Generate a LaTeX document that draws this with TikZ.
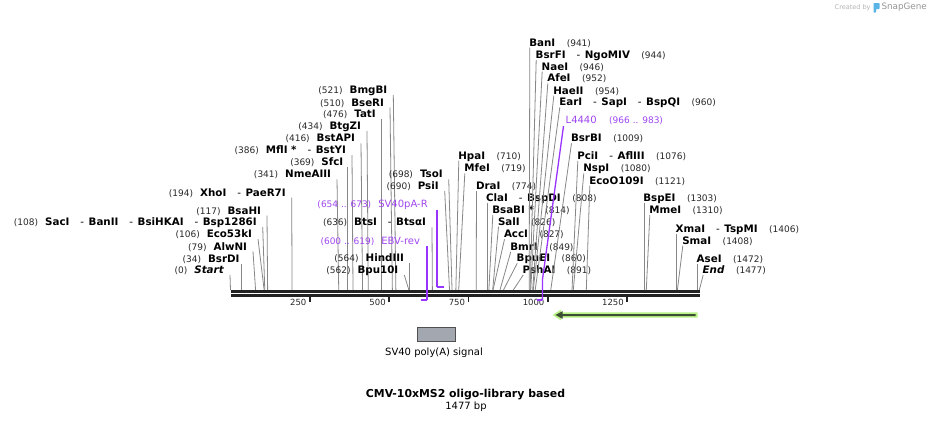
\documentclass[tikz,border=0pt]{standalone}
\usepackage{fontspec}
\setmainfont{DejaVu Sans}
\definecolor{sitegray}{RGB}{135,135,135}
\definecolor{mapline}{RGB}{34,34,34}
\definecolor{primer}{RGB}{153,51,255}
\definecolor{primertxt}{RGB}{160,70,240}
\definecolor{numcol}{RGB}{40,40,40}
\definecolor{boxfill}{RGB}{163,168,176}
\definecolor{boxdraw}{RGB}{80,80,80}
\definecolor{halo}{RGB}{185,242,135}
\definecolor{arrowdark}{RGB}{60,78,52}
\definecolor{sgblue}{RGB}{90,180,230}
\newcommand\sx[1]{230.5+#1*0.3174}
\newcommand\numf{\fontsize{9}{10}\selectfont\mdseries\color{numcol}}
\newcommand\namef{\fontsize{10.3}{12}\selectfont\bfseries\color{black}}
\newcommand\pnum{\fontsize{9}{10}\selectfont\mdseries\color{primertxt}}
\newcommand\pname{\fontsize{10}{12}\selectfont\mdseries\color{primertxt}}
\newcommand\sepd{\hspace{11pt}{\mdseries-}\hspace{4.5pt}}
\tikzset{
  lbl/.style={inner sep=0pt,outer sep=0pt},
  siteline/.style={draw=sitegray,line width=0.8pt},
  mapbar/.style={draw=mapline,line width=2.6pt},
  tickmark/.style={draw=mapline,line width=1.8pt},
  primerline/.style={draw=primer,line width=1.3pt},
  primerbar/.style={draw=primer,line width=1.9pt},
}
\newcommand\LL[5]{%
  \node[lbl,anchor=base east] (n#1) at (#3,#2+3.6) {\numf(#4)\hspace{7pt}\namef #5};
  \coordinate (t#1) at ({min(\sx{#4},#3+6)},#2+5);
  \coordinate (s#1) at ({\sx{#4}},290);
  \draw[siteline] (t#1) -- (s#1);}
\newcommand\RL[5]{%
  \node[lbl,anchor=base west] (n#1) at (#3,#2+3.6) {\namef #5\hspace{11.5pt}\numf(#4)};
  \coordinate (t#1) at ({max(\sx{#4},#3+0.5)},#2+5);
  \coordinate (s#1) at ({\sx{#4}},290);
  \draw[siteline] (t#1) -- (s#1);}
\begin{document}
\begin{tikzpicture}[x=1pt,y=-1pt]
\fill[white] (0,0) rectangle (931,423);
\useasboundingbox (0,0) rectangle (931,423);
% left-side labels
\LL{a1}{270}{224}{0}{\textit{Start}}
\LL{a2}{258.5}{239.5}{34}{BsrDI}
\LL{a3}{246.5}{247}{79}{AlwNI}
\LL{a4}{234}{252}{106}{Eco53kI}
\LL{a5}{222}{256.7}{108}{SacI\sepd BanII\sepd BsiHKAI\sepd Bsp1286I}
\LL{a6}{210.5}{261}{117}{BsaHI}
\LL{a7}{192.5}{285.7}{194}{XhoI\sepd PaeR7I}
\LL{a8}{174.3}{331}{341}{NmeAIII}
\LL{a9}{162}{343.3}{369}{SfcI}
\LL{a10}{150}{346}{386}{MflI *\sepd BstYI}
\LL{a11}{138.3}{355}{416}{BstAPI}
\LL{a12}{126}{361}{434}{BtgZI}
\LL{a13}{114.3}{375.7}{476}{TatI}
\LL{a14}{102.5}{384}{510}{BseRI}
\LL{a15}{90}{387.3}{521}{BmgBI}
\LL{a16}{174.3}{442.7}{698}{TsoI}
\LL{a17}{186}{438.7}{690}{PsiI}
\LL{a18}{222.3}{426}{636}{BtsI\sepd BtsαI}
\LL{a19}{258.3}{404}{564}{HindIII}
\LL{a20}{270}{398.3}{562}{Bpu10I}
% right-side labels
\RL{b1}{155.7}{458.3}{710}{HpaI}
\RL{b2}{168.3}{464.3}{719}{MfeI}
\RL{b3}{186}{476}{774}{DraI}
\RL{b4}{198.3}{486}{808}{ClaI\sepd BspDI}
\RL{b5}{210}{492.3}{814}{BsaBI *}
\RL{b6}{221.7}{498}{826}{SalI}
\RL{b7}{234.3}{504}{827}{AccI}
\RL{b8}{246.7}{510.3}{849}{BmrI}
\RL{b9}{258.3}{516.7}{860}{BpuEI}
\RL{b10}{270}{522.7}{891}{PshAI}
\RL{b11}{42.7}{529.3}{941}{BanI}
\RL{b12}{55}{535.7}{944}{BsrFI\sepd NgoMIV}
\RL{b13}{66.5}{541.7}{946}{NaeI}
\RL{b14}{78.3}{547.3}{952}{AfeI}
\RL{b15}{90.7}{553.3}{954}{HaeII}
\RL{b16}{102.3}{559.3}{960}{EarI\sepd SapI\sepd BspQI}
\RL{b17}{138.3}{571}{1009}{BsrBI}
\RL{b18}{156}{577.3}{1076}{PciI\sepd AflIII}
\RL{b19}{168.3}{583.3}{1080}{NspI}
\RL{b20}{180.7}{589.3}{1121}{EcoO109I}
\RL{b21}{198.3}{643.3}{1303}{BspEI}
\RL{b22}{210}{649.3}{1310}{MmeI}
\RL{b23}{229}{675.7}{1406}{XmaI\sepd TspMI}
\RL{b24}{240.7}{682.3}{1408}{SmaI}
\RL{b25}{259}{696.7}{1472}{AseI}
\RL{b26}{270}{702.7}{1477}{\textit{End}}
% sequence double line
\coordinate (mL1) at (231,291.2); \coordinate (mR1) at (700,291.2);
\coordinate (mL2) at (231,295.3); \coordinate (mR2) at (700,295.3);
\draw[mapbar] (mL1) -- (mR1);
\draw[mapbar] (mL2) -- (mR2);
% ticks
\foreach \t in {250,500,750,1000,1250}{
  \draw[tickmark] ({\sx{\t}},296) -- ({\sx{\t}},301.5);
  \node[lbl,anchor=east,font=\fontsize{8.5}{10}\selectfont,text=numcol] (tk\t) at ({\sx{\t}-3.5},302.5) {\t};
}
% primers
\node[lbl,anchor=base east] (pSV) at (427.7,207.9) {\pnum(654 .. 673)\hspace{7pt}\pname SV40pA-R};
\coordinate (pSVt) at (437.1,210);
\coordinate (pSVb) at (437.1,287.3);
\coordinate (pSVe) at (443.5,287.3);
\draw[primerline] (pSVt) -- (pSVb);
\draw[primerbar] (pSVb) -- (pSVe);
\node[lbl,anchor=base east] (pEBV) at (420,244.3) {\pnum(600 .. 619)\hspace{7pt}\pname EBV-rev};
\coordinate (pEBVt) at (427.1,246);
\coordinate (pEBVb) at (427.1,300);
\coordinate (pEBVe) at (421,300);
\draw[primerline] (pEBVt) -- (pEBVb);
\draw[primerbar] (pEBVb) -- (pEBVe);
\node[lbl,anchor=base west] (pL) at (565.7,123.6) {\pname L4440\hspace{12.5pt}\pnum(966 .. 983)};
\coordinate (pLt) at (563.5,126);
\coordinate (pLk) at (542.4,280);
\coordinate (pLb) at (542.4,300);
\coordinate (pLe) at (537.3,300);
\draw[primerline] (pLt) -- (pLk) -- (pLb);
\draw[primerbar] (pLb) -- (pLe);
% green feature arrow
\fill[halo] (552.5,315) -- (561,309.6) -- (561,312.3) -- (697.5,312.3) -- (697.5,317.7) -- (561,317.7) -- (561,320.4) -- cycle;
\fill[arrowdark] (555.5,315) -- (562.5,311.2) -- (562.5,314) -- (695.5,314) -- (695.5,316) -- (562.5,316) -- (562.5,318.8) -- cycle;
% SV40 poly(A) box
\node[draw=boxdraw,fill=boxfill,line width=0.8pt,minimum width=38.4pt,minimum height=13.7pt,inner sep=0pt] (polyA) at (436.5,334.2) {};
\node[lbl,font=\fontsize{10}{12}\selectfont] (polyAl) at (434,353) {SV40 poly(A) signal};
% title
\node[lbl,font=\fontsize{10.9}{13}\selectfont\bfseries] (title) at (465.5,395) {CMV-10xMS2 oligo-library based};
\node[lbl,font=\fontsize{10}{12}\selectfont] (bp) at (466,406.3) {1477 bp};
% credit
\node[lbl,anchor=east,font=\fontsize{6.5}{8}\selectfont,text={rgb,255:red,180;green,180;blue,180}] (cr1) at (870.5,7.5) {Created by};
\fill[sgblue,rounded corners=0.6pt] (873.5,3) -- (879.5,3) -- (879.5,9) -- (876,9) -- (876,12.5) -- (873.5,12.5) -- cycle;
\node[lbl,anchor=west,font=\fontsize{8.8}{10}\selectfont,text={rgb,255:red,150;green,150;blue,150}] (cr2) at (881.5,7.5) {SnapGene};
\end{tikzpicture}
\end{document}
